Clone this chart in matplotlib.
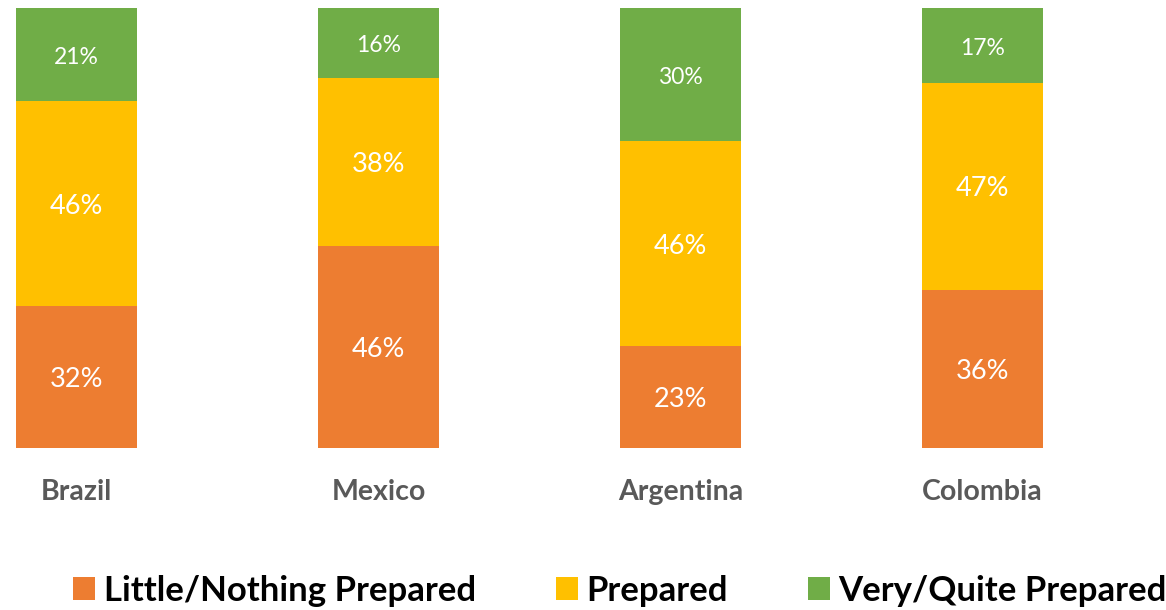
import numpy as np
import matplotlib.pyplot as plt
from matplotlib.patches import Patch

countries = ["Brazil", "Mexico", "Argentina", "Colombia"]
little = [32, 46, 23, 36]
prepared = [46, 38, 46, 47]
very = [21, 16, 30, 17]

series = [("Little/Nothing Prepared", little, "#ED7D31", 19.5),
          ("Prepared", prepared, "#FFC000", 19.5),
          ("Very/Quite Prepared", very, "#70AD47", 16.5)]

plt.rcParams['font.family'] = ['Lato', 'DejaVu Sans']

fig = plt.figure(figsize=(11.66, 6.10), dpi=100)
ax = fig.add_axes([0, 162 / 610, 1, 440 / 610])

x = np.arange(len(countries))
totals = np.array(little) + np.array(prepared) + np.array(very)
bottom = np.zeros(len(countries))
handles = []
for name, vals, color, fs in series:
    share = np.array(vals) / totals
    ax.bar(x, share, 0.4, bottom=bottom, color=color, edgecolor="none")
    for xi, b, s, v in zip(x, bottom, share, vals):
        ax.text(xi, b + s / 2 - 0.006, f"{v}%", ha="center", va="center",
                color="white", fontsize=fs)
    bottom += share
    handles.append(Patch(facecolor=color, label=name))

ax.set_xlim(-76.5 / 302, 3 + (1166 - 982.5) / 302)
ax.set_ylim(0, 1)
ax.axis("off")

for xi, c in zip(x, countries):
    ax.text(xi, -0.1, c, ha="center", va="center", fontsize=20.5,
            fontweight="bold", color="#595959")

fig.legend(handles=handles, loc="center", bbox_to_anchor=(620 / 1166, 1 - 591 / 610),
           ncol=3, frameon=False, handlelength=0.63, handleheight=0.63,
           handletextpad=0.25, columnspacing=2.3,
           prop={"size": 25, "weight": "bold"})

fig.savefig("out.png", dpi=100)
